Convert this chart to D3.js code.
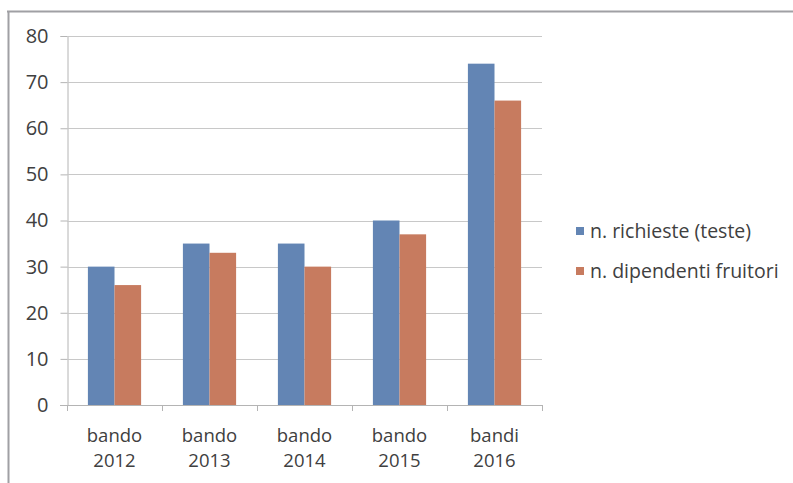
<!DOCTYPE html>
<html>
<head>
<meta charset="utf-8">
<script src="https://cdn.jsdelivr.net/npm/d3@7"></script>
<style>
  html, body { margin: 0; padding: 0; background: #fff; }
  svg { display: block; }
  text { font-family: "Open Sans", Lato, sans-serif; fill: #404040; }
</style>
</head>
<body>
<svg id="chart" width="793" height="483"></svg>
<script>
// Bandi: richieste e dipendenti fruitori
const categories = [["bando", "2012"], ["bando", "2013"], ["bando", "2014"], ["bando", "2015"], ["bandi", "2016"]];
const seriesNames = ["n. richieste (teste)", "n. dipendenti fruitori"];
const richieste = [30, 35, 35, 40, 74];
const fruitori = [26, 33, 30, 37, 66];
const yTicks = [0, 10, 20, 30, 40, 50, 60, 70, 80];
const colors = ["#6385b4", "#c77b5f"];

const svg = d3.select("#chart");
const plotLeft = 67, plotRight = 542, plotTop = 36, plotBottom = 405;

// outer frame (top and left edges)
svg.append("line").attr("x1", 7).attr("x2", 793).attr("y1", 11.5).attr("y2", 11.5)
  .attr("stroke", "#a0a0a4").attr("stroke-width", 2);
svg.append("line").attr("x1", 8.5).attr("x2", 8.5).attr("y1", 11).attr("y2", 483)
  .attr("stroke", "#a0a0a4").attr("stroke-width", 2);

const keys = categories.map(c => c.join(" "));
const x = d3.scaleBand().domain(keys).range([plotLeft, plotRight]).paddingInner(0.44).paddingOuter(0.22);
const x1 = d3.scaleBand().domain([0, 1]).range([0, x.bandwidth()]);
const y = d3.scaleLinear().domain([0, 80]).range([plotBottom, plotTop]);

// y axis
const yAxis = d3.axisLeft(y).tickValues(yTicks).tickSize(7).tickPadding(12);
const gy = svg.append("g").attr("transform", `translate(${plotLeft + 0.5},0)`).call(yAxis);
gy.select(".domain").attr("stroke", "#b4b4b4");
gy.selectAll(".tick line").attr("stroke", "#b4b4b4");
gy.selectAll(".tick text").style("font-size", "20px").style("font-family", "'Open Sans', sans-serif").attr("fill", "#404040");

// horizontal gridlines
svg.append("g").selectAll("line").data(yTicks.filter(t => t > 0)).join("line")
  .attr("x1", plotLeft).attr("x2", plotRight)
  .attr("y1", d => Math.round(y(d)) + 0.5).attr("y2", d => Math.round(y(d)) + 0.5)
  .attr("stroke", "#c8c8c8");

// bars
const values = [richieste, fruitori];
const groups = svg.append("g").selectAll("g").data(keys).join("g")
  .attr("transform", d => `translate(${x(d)},0)`);
groups.selectAll("rect").data((d, i) => values.map((v, s) => ({ s, v: v[i] }))).join("rect")
  .attr("x", d => x1(d.s))
  .attr("width", x1.bandwidth())
  .attr("y", d => y(d.v))
  .attr("height", d => y(0) - y(d.v))
  .attr("fill", d => colors[d.s]);

// x axis with ticks at category boundaries
const boundaries = d3.range(keys.length + 1).map(i => plotLeft + i * (plotRight - plotLeft) / keys.length);
svg.append("line").attr("x1", plotLeft - 7).attr("x2", plotRight).attr("y1", plotBottom + 0.5).attr("y2", plotBottom + 0.5)
  .attr("stroke", "#b4b4b4");
svg.append("g").selectAll("line").data(boundaries).join("line")
  .attr("x1", d => Math.round(d) + 0.5).attr("x2", d => Math.round(d) + 0.5)
  .attr("y1", plotBottom).attr("y2", plotBottom + 6).attr("stroke", "#b4b4b4");

const cx = (d, i) => x(keys[i]) + x.bandwidth() / 2;
const xl = svg.append("g").selectAll("text").data(categories).join("text")
  .attr("text-anchor", "middle")
  .style("font-size", "18.5px");
xl.append("tspan").attr("x", cx).attr("y", 442).text(d => d[0]);
xl.append("tspan").attr("x", cx).attr("y", 467).text(d => d[1]);

// legend
const lg = svg.append("g").selectAll("g").data(seriesNames).join("g")
  .attr("transform", (d, i) => `translate(576,${231 + i * 40})`);
lg.append("rect").attr("x", 0).attr("y", -4).attr("width", 8).attr("height", 8)
  .attr("fill", (d, i) => colors[i]);
lg.append("text").attr("x", 14).attr("y", 6.5).style("font-size", "19.5px").text(d => d);
</script>
</body>
</html>
